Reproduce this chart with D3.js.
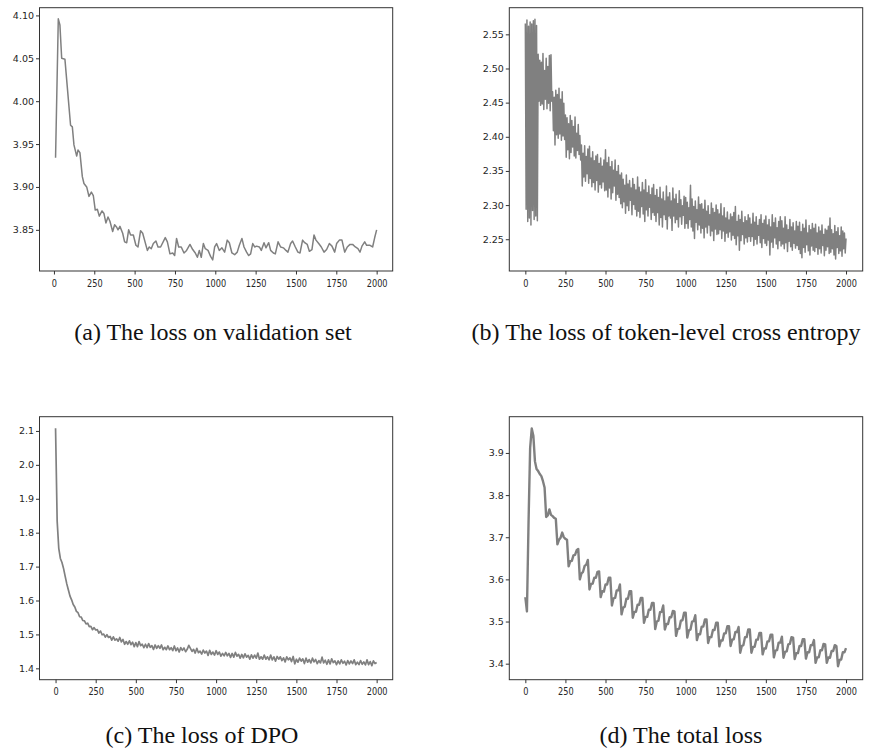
<!DOCTYPE html>
<html>
<meta charset="utf-8">
<style>
  body { margin: 0; background: #fff; }
</style>
<body>
<svg width="875" height="756"></svg>
<script src="https://d3js.org/d3.v7.min.js"></script>
<script>
// shared x ticks (training steps)
const xTicks = [0, 250, 500, 750, 1000, 1250, 1500, 1750, 2000];

// (a) loss on validation set
const valSteps = [10, 27, 37, 48, 68, 93, 103, 114, 124, 141, 149, 161, 176, 186, 203, 217, 232, 244, 256, 269,
  281, 298, 310, 322, 335, 347, 364, 376, 389, 397, 409, 426, 438, 451, 463, 475, 492, 508, 521, 537,
  550, 579, 591, 603, 616, 632, 645, 661, 690, 703, 719, 736, 748, 760, 773, 789, 806, 822, 843, 860,
  876, 889, 901, 913, 926, 938, 955, 971, 984, 996, 1008, 1025, 1041, 1058, 1074, 1087, 1103, 1120, 1136, 1149,
  1165, 1178, 1194, 1207, 1219, 1232, 1244, 1256, 1273, 1285, 1302, 1314, 1331, 1343, 1360, 1372, 1389, 1405, 1422, 1438,
  1450, 1467, 1479, 1496, 1512, 1525, 1541, 1554, 1570, 1583, 1599, 1612, 1624, 1641, 1657, 1674, 1690, 1707, 1723, 1740,
  1752, 1769, 1785, 1802, 1818, 1835, 1851, 1868, 1884, 1897, 1909, 1926, 1938, 1959, 1975, 1988, 2000];
const valLoss = [3.934, 4.096, 4.089, 4.050, 4.049, 3.994, 3.972, 3.970, 3.949, 3.936, 3.943, 3.940, 3.912, 3.904, 3.900, 3.889, 3.894, 3.890, 3.873, 3.874,
  3.866, 3.872, 3.869, 3.858, 3.865, 3.860, 3.848, 3.856, 3.853, 3.850, 3.854, 3.846, 3.836, 3.835, 3.850, 3.844, 3.844, 3.832, 3.830, 3.849,
  3.846, 3.826, 3.830, 3.828, 3.834, 3.837, 3.830, 3.830, 3.841, 3.836, 3.822, 3.823, 3.820, 3.840, 3.830, 3.830, 3.823, 3.826, 3.833, 3.827,
  3.823, 3.818, 3.826, 3.818, 3.834, 3.828, 3.826, 3.819, 3.815, 3.830, 3.834, 3.826, 3.829, 3.824, 3.838, 3.835, 3.823, 3.821, 3.824, 3.832,
  3.840, 3.830, 3.824, 3.820, 3.822, 3.834, 3.830, 3.831, 3.830, 3.826, 3.835, 3.829, 3.835, 3.826, 3.823, 3.822, 3.836, 3.830, 3.829, 3.826,
  3.824, 3.834, 3.837, 3.830, 3.824, 3.823, 3.838, 3.835, 3.833, 3.825, 3.827, 3.844, 3.838, 3.834, 3.830, 3.824, 3.827, 3.834, 3.831, 3.824,
  3.834, 3.838, 3.838, 3.824, 3.830, 3.833, 3.833, 3.830, 3.828, 3.824, 3.831, 3.836, 3.832, 3.832, 3.830, 3.841, 3.850];

// (b) token-level cross entropy: top and bottom of the noisy band, one pair per 10 steps
const ceHigh = [2.566, 2.571, 2.562, 2.568, 2.565, 2.570, 2.572, 2.563, 2.521, 2.512,
  2.509, 2.522, 2.497, 2.515, 2.503, 2.519, 2.520, 2.466, 2.458, 2.468,
  2.462, 2.471, 2.455, 2.466, 2.449, 2.432, 2.428, 2.419, 2.431, 2.424,
  2.415, 2.429, 2.405, 2.418, 2.402, 2.388, 2.376, 2.387, 2.371, 2.382,
  2.386, 2.369, 2.378, 2.365, 2.372, 2.374, 2.361, 2.369, 2.357, 2.366,
  2.381, 2.362, 2.370, 2.356, 2.364, 2.351, 2.366, 2.349, 2.358, 2.344,
  2.347, 2.338, 2.329, 2.344, 2.331, 2.336, 2.325, 2.339, 2.330, 2.322,
  2.341, 2.326, 2.319, 2.333, 2.322, 2.337, 2.318, 2.328, 2.315, 2.325,
  2.330, 2.314, 2.323, 2.311, 2.326, 2.309, 2.319, 2.306, 2.328, 2.312,
  2.318, 2.306, 2.325, 2.309, 2.316, 2.302, 2.321, 2.308, 2.299, 2.313,
  2.311, 2.304, 2.296, 2.329, 2.309, 2.298, 2.306, 2.293, 2.312, 2.301,
  2.302, 2.294, 2.307, 2.291, 2.299, 2.286, 2.303, 2.295, 2.289, 2.300,
  2.293, 2.287, 2.302, 2.284, 2.296, 2.281, 2.290, 2.278, 2.287, 2.283,
  2.289, 2.298, 2.276, 2.285, 2.279, 2.291, 2.274, 2.283, 2.277, 2.286,
  2.281, 2.272, 2.288, 2.275, 2.283, 2.270, 2.279, 2.286, 2.273, 2.278,
  2.284, 2.271, 2.279, 2.268, 2.286, 2.274, 2.281, 2.267, 2.276, 2.283,
  2.277, 2.266, 2.283, 2.271, 2.264, 2.279, 2.268, 2.274, 2.262, 2.276,
  2.269, 2.275, 2.261, 2.272, 2.266, 2.278, 2.259, 2.270, 2.264, 2.273,
  2.266, 2.272, 2.259, 2.268, 2.262, 2.271, 2.257, 2.265, 2.263, 2.269,
  2.281, 2.264, 2.258, 2.270, 2.261, 2.267, 2.255, 2.268, 2.262, 2.259];
const ceLow = [2.294, 2.276, 2.281, 2.271, 2.292, 2.279, 2.284, 2.277, 2.452, 2.446,
  2.448, 2.440, 2.455, 2.441, 2.449, 2.438, 2.452, 2.409, 2.388, 2.403,
  2.398, 2.404, 2.395, 2.401, 2.396, 2.370, 2.381, 2.368, 2.377, 2.385,
  2.372, 2.369, 2.380, 2.374, 2.366, 2.328, 2.341, 2.335, 2.346, 2.332,
  2.339, 2.327, 2.333, 2.322, 2.336, 2.319, 2.330, 2.325, 2.334, 2.321,
  2.322, 2.312, 2.325, 2.309, 2.318, 2.328, 2.307, 2.316, 2.311, 2.302,
  2.296, 2.305, 2.288, 2.299, 2.292, 2.307, 2.286, 2.301, 2.294, 2.284,
  2.291, 2.282, 2.298, 2.287, 2.276, 2.293, 2.284, 2.297, 2.279, 2.289,
  2.285, 2.276, 2.289, 2.271, 2.282, 2.268, 2.286, 2.279, 2.265, 2.284,
  2.281, 2.263, 2.284, 2.274, 2.279, 2.268, 2.283, 2.272, 2.285, 2.266,
  2.273, 2.266, 2.279, 2.268, 2.262, 2.251, 2.275, 2.264, 2.271, 2.259,
  2.266, 2.252, 2.268, 2.259, 2.271, 2.255, 2.262, 2.248, 2.265, 2.257,
  2.258, 2.264, 2.251, 2.262, 2.247, 2.259, 2.253, 2.261, 2.249, 2.256,
  2.251, 2.242, 2.255, 2.234, 2.248, 2.257, 2.243, 2.252, 2.246, 2.254,
  2.247, 2.254, 2.241, 2.250, 2.243, 2.256, 2.245, 2.238, 2.251, 2.244,
  2.241, 2.249, 2.227, 2.246, 2.238, 2.252, 2.243, 2.236, 2.248, 2.240,
  2.243, 2.236, 2.245, 2.232, 2.247, 2.239, 2.234, 2.244, 2.237, 2.241,
  2.235, 2.229, 2.223, 2.238, 2.231, 2.242, 2.233, 2.227, 2.240, 2.234,
  2.232, 2.238, 2.228, 2.236, 2.230, 2.241, 2.226, 2.234, 2.239, 2.229,
  2.231, 2.236, 2.227, 2.221, 2.238, 2.229, 2.233, 2.225, 2.236, 2.230];
const ceLast = 2.251;

// (c) DPO loss, every 10 steps
const dpoLoss = [2.108, 1.834, 1.754, 1.724, 1.712, 1.694, 1.671, 1.649, 1.631, 1.613,
  1.602, 1.588, 1.581, 1.568, 1.564, 1.552, 1.551, 1.541, 1.540, 1.531,
  1.533, 1.523, 1.524, 1.514, 1.520, 1.513, 1.514, 1.504, 1.510, 1.499,
  1.501, 1.492, 1.499, 1.491, 1.494, 1.483, 1.493, 1.483, 1.487, 1.480,
  1.491, 1.478, 1.485, 1.471, 1.479, 1.471, 1.481, 1.470, 1.477, 1.464,
  1.476, 1.464, 1.479, 1.467, 1.471, 1.461, 1.471, 1.461, 1.473, 1.462,
  1.467, 1.456, 1.469, 1.459, 1.467, 1.459, 1.469, 1.455, 1.462, 1.455,
  1.466, 1.455, 1.461, 1.452, 1.466, 1.452, 1.460, 1.448, 1.461, 1.453,
  1.460, 1.449, 1.456, 1.468, 1.459, 1.450, 1.456, 1.445, 1.459, 1.446,
  1.451, 1.442, 1.454, 1.445, 1.451, 1.438, 1.453, 1.441, 1.448, 1.439,
  1.452, 1.441, 1.448, 1.436, 1.444, 1.437, 1.447, 1.437, 1.444, 1.432,
  1.444, 1.433, 1.447, 1.436, 1.441, 1.430, 1.441, 1.431, 1.443, 1.433,
  1.438, 1.427, 1.440, 1.430, 1.439, 1.430, 1.445, 1.427, 1.434, 1.427,
  1.439, 1.427, 1.434, 1.425, 1.439, 1.425, 1.434, 1.421, 1.435, 1.427,
  1.434, 1.423, 1.431, 1.419, 1.434, 1.425, 1.431, 1.420, 1.435, 1.413,
  1.427, 1.418, 1.430, 1.421, 1.428, 1.414, 1.430, 1.418, 1.426, 1.416,
  1.430, 1.419, 1.426, 1.414, 1.423, 1.416, 1.433, 1.416, 1.424, 1.412,
  1.425, 1.413, 1.428, 1.417, 1.422, 1.411, 1.422, 1.413, 1.425, 1.415,
  1.421, 1.410, 1.423, 1.413, 1.422, 1.414, 1.425, 1.411, 1.418, 1.411,
  1.423, 1.412, 1.419, 1.410, 1.425, 1.411, 1.420, 1.408, 1.422, 1.414,
  1.417];

// (d) total loss, every 10 steps (saw-tooth per epoch)
const totalLoss = [3.558, 3.524, 3.735, 3.912, 3.958, 3.941, 3.880, 3.862, 3.857, 3.850,
  3.845, 3.833, 3.818, 3.748, 3.752, 3.766, 3.753, 3.750, 3.746, 3.744,
  3.683, 3.694, 3.699, 3.711, 3.700, 3.696, 3.694,
  3.631, 3.643, 3.644, 3.657, 3.658, 3.669, 3.672,
  3.600, 3.614, 3.618, 3.632, 3.635, 3.646,
  3.576, 3.589, 3.590, 3.604, 3.604, 3.618, 3.619,
  3.558, 3.572, 3.571, 3.588, 3.588, 3.604, 3.604,
  3.538, 3.555, 3.556, 3.574, 3.574, 3.588,
  3.517, 3.533, 3.535, 3.554, 3.554, 3.572, 3.572,
  3.509, 3.523, 3.523, 3.540, 3.540, 3.556, 3.556,
  3.497, 3.511, 3.511, 3.528, 3.528, 3.544, 3.544,
  3.482, 3.500, 3.502, 3.522, 3.523, 3.538,
  3.481, 3.494, 3.494, 3.510, 3.510, 3.525, 3.524,
  3.466, 3.482, 3.483, 3.502, 3.503, 3.521, 3.521,
  3.462, 3.479, 3.481, 3.500, 3.501, 3.515,
  3.456, 3.470, 3.470, 3.488, 3.488, 3.505, 3.505,
  3.449, 3.463, 3.463, 3.480, 3.480, 3.497, 3.497,
  3.441, 3.455, 3.455, 3.472, 3.472, 3.489, 3.489,
  3.442, 3.457, 3.458, 3.475, 3.475, 3.487,
  3.426, 3.442, 3.444, 3.463, 3.463, 3.481, 3.481,
  3.426, 3.440, 3.440, 3.457, 3.457, 3.473, 3.473,
  3.422, 3.436, 3.436, 3.453, 3.453, 3.469, 3.469,
  3.415, 3.431, 3.432, 3.450, 3.450, 3.464,
  3.414, 3.428, 3.429, 3.446, 3.447, 3.463, 3.462,
  3.411, 3.425, 3.425, 3.442, 3.442, 3.458, 3.458,
  3.412, 3.427, 3.427, 3.444, 3.444, 3.456,
  3.402, 3.415, 3.415, 3.432, 3.432, 3.447, 3.446,
  3.402, 3.415, 3.414, 3.430, 3.430, 3.444, 3.442,
  3.394, 3.409, 3.410, 3.427, 3.427, 3.437];

const yTicksA = [3.85, 3.90, 3.95, 4.00, 4.05, 4.10];
const yTicksB = [2.25, 2.30, 2.35, 2.40, 2.45, 2.50, 2.55];
const yTicksC = [1.4, 1.5, 1.6, 1.7, 1.8, 1.9, 2.0, 2.1];
const yTicksD = [3.4, 3.5, 3.6, 3.7, 3.8, 3.9];

const captions = [
  "(a) The loss on validation set",
  "(b) The loss of token-level cross entropy",
  "(c) The loss of DPO",
  "(d) The total loss"
];

// build point lists
const valPts = valSteps.map((s, i) => [s, valLoss[i]]);
const cePts = [];
ceHigh.forEach((v, i) => {
  cePts.push([i * 10, v]);
  cePts.push([i * 10 + 5, ceLow[i]]);
});
cePts.push([2000, ceLast]);
const dpoPts = dpoLoss.map((v, i) => [i * 10, v]);
const totalPts = totalLoss.map((v, i) => [i * 10, v]);

const panels = [
  {left: 39.5, top: 7.7, w: 353.2, h: 263.3, xDom: [-89.5, 2099.5], yDom: [3.802, 4.109],
   yTicks: yTicksA, fmt: ".2f", pts: valPts, sw: 1.5, cap: captions[0], capX: 213, capY: 340},
  {left: 509.3, top: 7.7, w: 353.4, h: 263.3, xDom: [-100, 2104], yDom: [2.2035, 2.589],
   yTicks: yTicksB, fmt: ".2f", pts: cePts, sw: 1.5, cap: captions[1], capX: 666, capY: 340},
  {left: 39.5, top: 416.7, w: 353.2, h: 263, xDom: [-100, 2100], yDom: [1.3665, 2.142],
   yTicks: yTicksC, fmt: ".1f", pts: dpoPts, sw: 1.7, cap: captions[2], capX: 202, capY: 743},
  {left: 509.3, top: 416.7, w: 353.4, h: 263, xDom: [-100, 2104], yDom: [3.362, 3.986],
   yTicks: yTicksD, fmt: ".1f", pts: totalPts, sw: 2.4, cap: captions[3], capX: 681, capY: 743}
];

const svg = d3.select("svg");
svg.append("rect").attr("width", 875).attr("height", 756).attr("fill", "#fff");

panels.forEach(p => {
  const g = svg.append("g").attr("transform", `translate(${p.left},${p.top})`);
  const x = d3.scaleLinear().domain(p.xDom).range([0, p.w]);
  const y = d3.scaleLinear().domain(p.yDom).range([p.h, 0]);

  const line = d3.line().x(d => x(d[0])).y(d => y(d[1]));
  g.append("path")
    .datum(p.pts)
    .attr("fill", "none")
    .attr("stroke", "#808080")
    .attr("stroke-width", p.sw)
    .attr("stroke-linejoin", "round")
    .attr("d", line);

  // axes frame
  g.append("rect")
    .attr("width", p.w).attr("height", p.h)
    .attr("fill", "none").attr("stroke", "#333").attr("stroke-width", 1);

  const xAxisG = g.append("g")
    .attr("transform", `translate(0,${p.h})`)
    .attr("color", "#333")
    .call(d3.axisBottom(x).tickValues(xTicks).tickFormat(d3.format("d"))
      .tickSize(3.5).tickPadding(4.8).tickSizeOuter(0));
  xAxisG.select(".domain").remove();
  xAxisG.selectAll("text")
    .attr("font-family", "DejaVu Sans")
    .attr("font-size", 10.5)
    .attr("fill", "#262626")
    .attr("transform", "scale(0.78,1)");

  const yAxisG = g.append("g")
    .attr("color", "#333")
    .call(d3.axisLeft(y).tickValues(p.yTicks).tickFormat(d3.format(p.fmt))
      .tickSize(3.5).tickPadding(2).tickSizeOuter(0));
  yAxisG.select(".domain").remove();
  yAxisG.selectAll("text")
    .attr("font-family", "DejaVu Sans")
    .attr("font-size", 9.5)
    .attr("fill", "#262626");

  svg.append("text")
    .attr("x", p.capX).attr("y", p.capY)
    .attr("text-anchor", "middle")
    .attr("font-family", "Liberation Serif")
    .attr("font-size", 24)
    .attr("fill", "#111")
    .text(p.cap);
});
</script>
</body>
</html>
